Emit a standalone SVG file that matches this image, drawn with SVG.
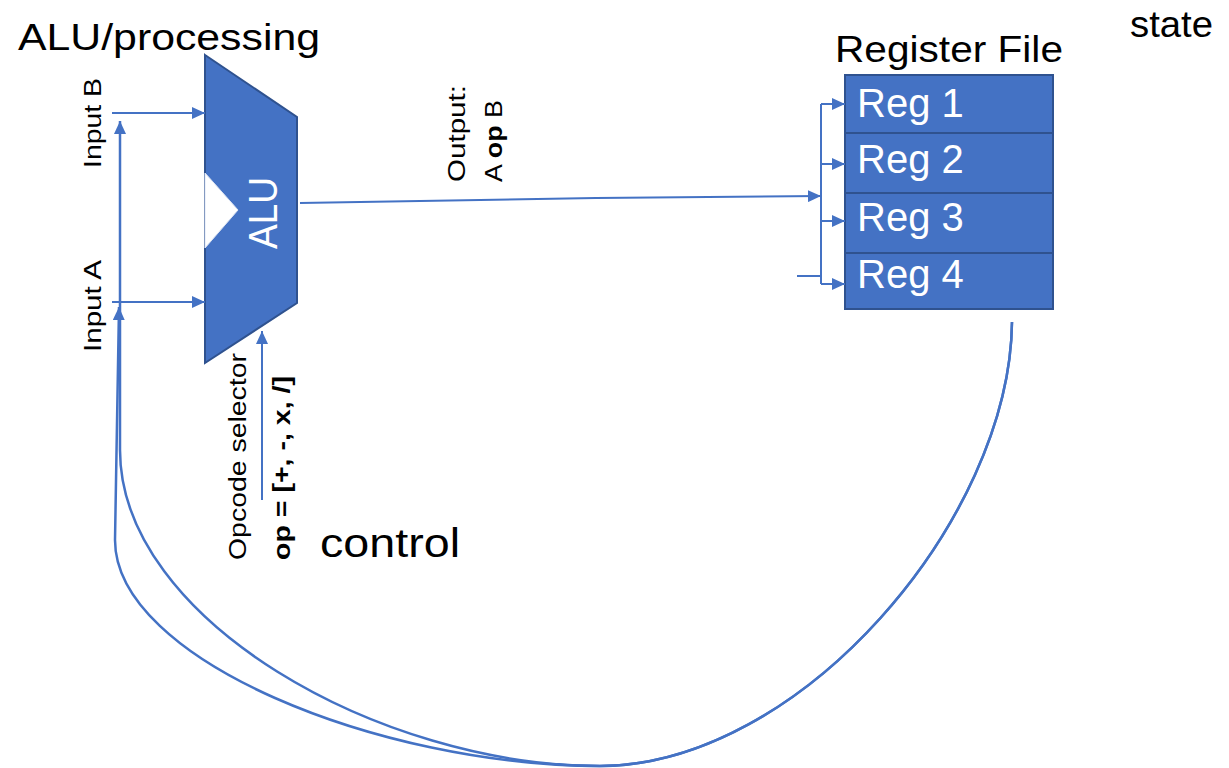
<svg xmlns="http://www.w3.org/2000/svg" width="1229" height="768" viewBox="0 0 1229 768">
<style>
.lbl{font-family:"Liberation Sans",Arial,sans-serif;fill:#000}
.wt{font-family:"Liberation Sans",Arial,sans-serif;fill:#fff}
.shape{fill:#4472C4;stroke:#2F528F;stroke-width:2}
.conn{fill:none;stroke:#4472C4;stroke-width:2}
.loop{fill:none;stroke:#4472C4;stroke-width:2.5}
</style>
<defs>
<marker id="arr" markerUnits="userSpaceOnUse" markerWidth="14" markerHeight="12" refX="13" refY="6" orient="auto">
<path d="M0,0 L13,6 L0,12 Z" fill="#4472C4"/>
</marker>
</defs>
<rect width="1229" height="768" fill="#fff"/>

<text class="lbl" x="18" y="50" font-size="36" textLength="302" lengthAdjust="spacingAndGlyphs">ALU/processing</text>
<text class="lbl" x="1130" y="37" font-size="36" textLength="83" lengthAdjust="spacingAndGlyphs">state</text>
<text class="lbl" x="835" y="62" font-size="37" textLength="228" lengthAdjust="spacingAndGlyphs">Register File</text>
<text class="lbl" x="320" y="557" font-size="40" textLength="140" lengthAdjust="spacingAndGlyphs">control</text>

<g id="alu">
<path class="shape" d="M205,55 L297,117 L297,303 L205,363 Z"/>
<path d="M205,173 L238,210 L205,248 Z" fill="#fff" stroke="#dbe3f3" stroke-width="1"/>
<text class="wt" transform="translate(277,249) rotate(-90)" font-size="40" textLength="72" lengthAdjust="spacingAndGlyphs">ALU</text>
</g>

<g id="regfile">
<rect class="shape" x="845" y="75" width="208" height="58"/>
<rect class="shape" x="845" y="133" width="208" height="60"/>
<rect class="shape" x="845" y="193" width="208" height="60"/>
<rect class="shape" x="845" y="253" width="208" height="56"/>
<text class="wt" x="857" y="117" font-size="40">Reg 1</text>
<text class="wt" x="857" y="173" font-size="40">Reg 2</text>
<text class="wt" x="857" y="231" font-size="40">Reg 3</text>
<text class="wt" x="857" y="288" font-size="40">Reg 4</text>
</g>

<g id="labels">
<text class="lbl" transform="translate(101,168) rotate(-90)" font-size="23" textLength="90" lengthAdjust="spacingAndGlyphs">Input B</text>
<text class="lbl" transform="translate(101,352) rotate(-90)" font-size="23" textLength="92" lengthAdjust="spacingAndGlyphs">Input A</text>
<text class="lbl" transform="translate(246,560) rotate(-90)" font-size="23" textLength="207" lengthAdjust="spacingAndGlyphs">Opcode selector</text>
<text class="lbl" transform="translate(290,560) rotate(-90)" font-size="23" font-weight="bold" textLength="184" lengthAdjust="spacingAndGlyphs">op = [+, -, x, /]</text>
<text class="lbl" transform="translate(465,182) rotate(-90)" font-size="23" textLength="97" lengthAdjust="spacingAndGlyphs">Output:</text>
<text class="lbl" transform="translate(502,182) rotate(-90)" font-size="23" textLength="82" lengthAdjust="spacingAndGlyphs">A <tspan font-weight="bold">op</tspan> B</text>
</g>

<g id="connectors">
<path class="conn" d="M112,113 H205" marker-end="url(#arr)"/>
<path class="conn" d="M112,302 H205" marker-end="url(#arr)"/>
<path class="conn" d="M262,500 V331" marker-end="url(#arr)"/>
<path class="conn" d="M300,203 L596,198 L821,196" marker-end="url(#arr)"/>
<path class="conn" d="M821,104 V284"/>
<path class="conn" d="M821,104 H845" marker-end="url(#arr)"/>
<path class="conn" d="M821,164 H845" marker-end="url(#arr)"/>
<path class="conn" d="M821,221 H845" marker-end="url(#arr)"/>
<path class="conn" d="M821,284 H845" marker-end="url(#arr)"/>
<path class="conn" d="M797,276 H821"/>
<path class="loop" d="M1012,322 C1010,520 800,766 600,766 C380,766 115,660 115,540 L119,307" marker-end="url(#arr)"/>
<path class="loop" d="M1012,322 C1010,520 800,766 600,766 C380,766 120,620 120,450 L120,121" marker-end="url(#arr)"/>
</g>
</svg>
